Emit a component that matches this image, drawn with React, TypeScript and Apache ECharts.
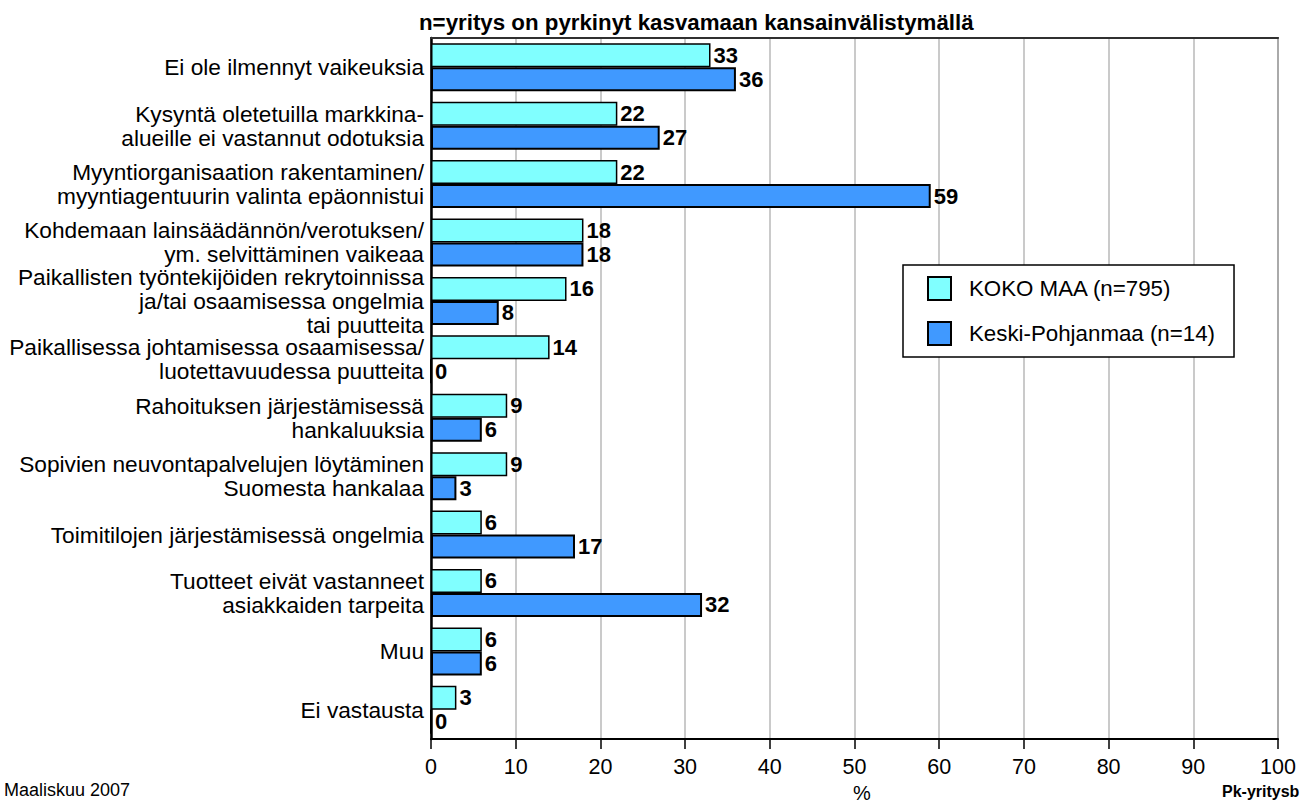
import React, { useEffect, useRef } from "react";
import * as echarts from "echarts";

const categories = [
  "Ei ole ilmennyt vaikeuksia",
  "Kysyntä oletetuilla markkina-\nalueille ei vastannut odotuksia",
  "Myyntiorganisaation rakentaminen/\nmyyntiagentuurin valinta epäonnistui",
  "Kohdemaan lainsäädännön/verotuksen/\nym. selvittäminen vaikeaa",
  "Paikallisten työntekijöiden rekrytoinnissa\nja/tai osaamisessa ongelmia\ntai puutteita",
  "Paikallisessa johtamisessa osaamisessa/\nluotettavuudessa puutteita",
  "Rahoituksen järjestämisessä\nhankaluuksia",
  "Sopivien neuvontapalvelujen löytäminen\nSuomesta hankalaa",
  "Toimitilojen järjestämisessä ongelmia",
  "Tuotteet eivät vastanneet\nasiakkaiden tarpeita",
  "Muu",
  "Ei vastausta",
];

const kokoMaa = [33, 22, 22, 18, 16, 14, 9, 9, 6, 6, 6, 3];
const keskiPohjanmaa = [36, 27, 59, 18, 8, 0, 6, 3, 17, 32, 6, 0];

const seriesNames = ["KOKO MAA (n=795)", "Keski-Pohjanmaa (n=14)"];
const xTicks = { min: 0, max: 100, interval: 10 };

const FONT = "Arial, 'Liberation Sans', sans-serif";

export default function App() {
  const ref = useRef<HTMLDivElement>(null);

  useEffect(() => {
    if (!ref.current) return;
    const chart = echarts.init(ref.current, undefined, { renderer: "svg" });

    const labelCfg = {
      show: true,
      position: "right",
      distance: 3,
      color: "#000",
      fontFamily: FONT,
      fontWeight: "bold",
      fontSize: 22,
    };

    chart.setOption({
      animation: false,
      backgroundColor: "#fff",
      textStyle: { fontFamily: FONT },
      grid: {
        left: 431,
        right: 25,
        top: 38,
        bottom: 66,
        show: true,
        borderColor: "#808080",
        borderWidth: 2,
        backgroundColor: "transparent",
      },
      legend: {
        orient: "vertical",
        left: 903,
        top: 265,
        itemWidth: 23,
        itemHeight: 23,
        itemGap: 20,
        padding: [11, 19, 11, 24],
        backgroundColor: "#fff",
        borderColor: "#000",
        borderWidth: 1.5,
        icon: "rect",
        textStyle: {
          fontFamily: FONT,
          fontSize: 22.3,
          color: "#000",
          padding: [0, 0, 0, 13],
        },
        data: seriesNames,
      },
      xAxis: [
        {
          type: "value",
          min: xTicks.min,
          max: xTicks.max,
          interval: xTicks.interval,
          position: "bottom",
          axisLine: { show: true, lineStyle: { color: "#000", width: 2 } },
          axisTick: { show: true, length: 10, lineStyle: { color: "#000", width: 1.5 } },
          axisLabel: { color: "#000", fontSize: 21.5, fontFamily: FONT, margin: 17 },
          splitLine: { show: true, lineStyle: { color: "#b8b8b8", width: 1.5 } },
        },
        {
          type: "value",
          min: xTicks.min,
          max: xTicks.max,
          interval: xTicks.interval,
          position: "top",
          axisLine: { show: true, lineStyle: { color: "#303030", width: 2 } },
          axisTick: { show: false },
          axisLabel: { show: false },
          splitLine: { show: false },
        },
      ],
      yAxis: {
        type: "category",
        data: categories,
        inverse: true,
        axisLine: { show: true, lineStyle: { color: "#000", width: 2.5 } },
        axisTick: { show: false },
        axisLabel: {
          color: "#000",
          fontSize: 22.7,
          fontFamily: FONT,
          margin: 7,
          lineHeight: 24,
          align: "right",
        },
        splitLine: { show: false },
      },
      series: [
        {
          name: seriesNames[0],
          type: "bar",
          data: kokoMaa,
          barWidth: 24,
          barGap: "0%",
          itemStyle: { color: "#80ffff", borderColor: "#000", borderWidth: 1.5 },
          label: labelCfg,
          z: 3,
        },
        {
          name: seriesNames[1],
          type: "bar",
          data: keskiPohjanmaa,
          barWidth: 24,
          barGap: "0%",
          itemStyle: { color: "#4099ff", borderColor: "#000", borderWidth: 2 },
          label: labelCfg,
          z: 3,
        },
      ],
      graphic: [
        {
          type: "text",
          left: 419,
          top: 11,
          style: {
            text: "n=yritys on pyrkinyt kasvamaan kansainvälistymällä",
            fontFamily: FONT,
            fontWeight: "bold",
            fontSize: 22.3,
            fill: "#000",
          },
        },
        {
          type: "text",
          x: 862,
          y: 793,
          style: {
            text: "%",
            fontFamily: FONT,
            fontSize: 20,
            fill: "#000",
            textAlign: "center",
            textVerticalAlign: "middle",
          },
        },
        {
          type: "text",
          x: 4,
          y: 790,
          style: {
            text: "Maaliskuu 2007",
            fontFamily: FONT,
            fontSize: 18,
            fill: "#000",
            textVerticalAlign: "middle",
          },
        },
        {
          type: "text",
          x: 1222,
          y: 791,
          style: {
            text: "Pk-yritysb",
            fontFamily: FONT,
            fontWeight: "bold",
            fontSize: 16,
            fill: "#000",
            textVerticalAlign: "middle",
          },
        },
      ],
    });

    return () => chart.dispose();
  }, []);

  return (
    <div
      ref={ref}
      style={{ position: "fixed", left: 0, top: 0, width: 1303, height: 805 }}
    />
  );
}
